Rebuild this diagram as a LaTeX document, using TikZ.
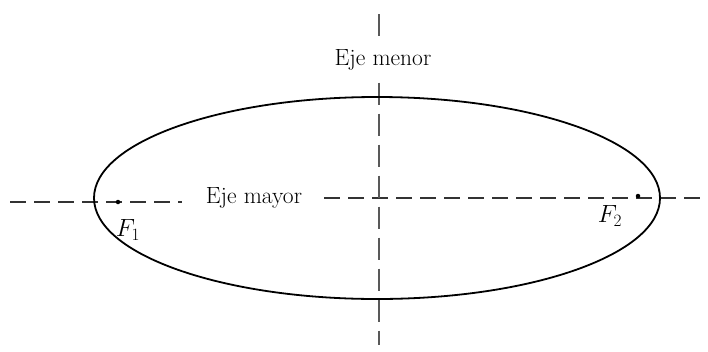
\documentclass[tikz,border=0pt]{standalone}
\usepackage{fontspec}
\setmainfont{Latin Modern Roman}
\usetikzlibrary{shapes.geometric}
\begin{document}
\begin{tikzpicture}[x=1pt,y=-1pt,
  axis/.style={draw=black!80,line width=1.3pt,dash pattern=on 16pt off 8pt},
  vaxis/.style={draw=black!65,line width=1.1pt,dash pattern=on 22pt off 9pt},
  curve/.style={draw=black,line width=1.8pt},
  lbl/.style={font=\fontsize{23.5}{26}\selectfont,inner sep=0pt},
  flbl/.style={font=\fontsize{23}{25}\selectfont\itshape,inner sep=0pt},
  dot/.style={circle,fill=black,inner sep=0pt,minimum size=4.5pt}]
\useasboundingbox (0,0) rectangle (708,351);
% axes
\coordinate (hl) at (10,202);
\coordinate (hr) at (702,198);
\coordinate (vt) at (379,14);
\coordinate (vb) at (379,345);
\node[lbl] (mayor) at (254,198) {Eje mayor};
\node[lbl] (menor) at (383,60) {Eje menor};
\draw[axis] (hl) -- ([xshift=-24pt]mayor.west |- hl);
\draw[axis] ([xshift=22pt]mayor.east |- hr) -- (hr);
\draw[vaxis] (vt) -- ([yshift=8pt]menor.north -| vt);
\draw[vaxis] ([yshift=-12pt]menor.south -| vt) -- (vb);
% ellipse
\node[curve,ellipse,minimum width=566pt,minimum height=202pt,inner sep=0pt] (ell) at (377,198) {};
% foci
\node[dot] (f1) at (118,202) {};
\node[dot] (f2) at (638,196) {};
\node[flbl] (f1l) at (128,230) {$F_1$};
\node[flbl] (f2l) at (610,216) {$F_2$};
\end{tikzpicture}
\end{document}
